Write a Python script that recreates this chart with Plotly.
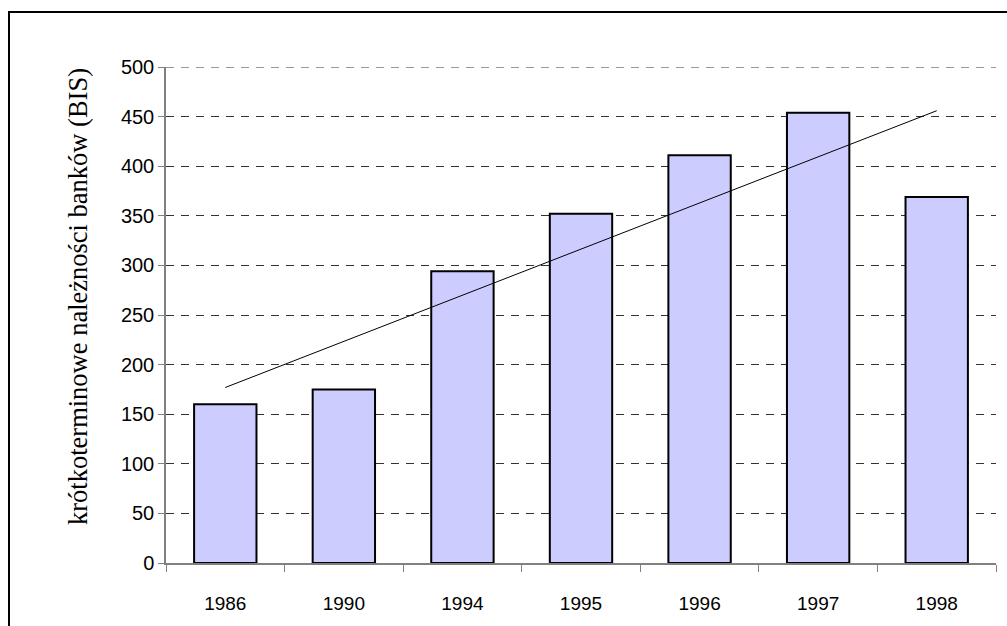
import numpy as np
import plotly.graph_objects as go

years = ["1986", "1990", "1994", "1995", "1996", "1997", "1998"]
claims = [160, 175, 294, 352, 411, 454, 369]
y_ticks = [0, 50, 100, 150, 200, 250, 300, 350, 400, 450, 500]
y_title = "krótkoterminowe należności banków (BIS)"

# linear trend (as in the original spreadsheet's trendline)
idx = np.arange(len(claims))
slope, intercept = np.polyfit(idx, claims, 1)
trend = [intercept, intercept + slope * idx[-1]]

fig = go.Figure()
fig.add_trace(go.Bar(
    x=years, y=claims,
    marker=dict(color="#CCCCFF", line=dict(color="#000000", width=2)),
    showlegend=False,
))
fig.add_trace(go.Scatter(
    x=[years[0], years[-1]], y=trend, mode="lines",
    line=dict(color="#000000", width=1), showlegend=False,
))

W, H = 1007, 626
ml, mr, mt, mb = 166, 11, 67, 63
pw, ph = W - ml - mr, H - mt - mb
grid_color = "#333333"
grid_dash = "8px,7px"

fig.update_layout(
    width=W, height=H,
    margin=dict(l=ml, r=mr, t=mt, b=mb),
    paper_bgcolor="white", plot_bgcolor="white",
    bargap=0.474,
    font=dict(family="Liberation Sans, Arial, sans-serif", size=20, color="#000000"),
    xaxis=dict(
        type="category", tickson="boundaries",
        ticks="outside", ticklen=7, tickcolor="#808080", tickwidth=1,
        showline=True, linecolor="#808080", linewidth=1.5,
        showgrid=False, ticklabelstandoff=22,
        tickfont=dict(family="Liberation Sans, Arial, sans-serif", size=19),
    ),
    yaxis=dict(
        range=[y_ticks[0], y_ticks[-1]], tickvals=y_ticks,
        ticks="outside", ticklen=6, tickcolor="#808080", tickwidth=1,
        showline=True, linecolor="#808080", linewidth=1.5,
        showgrid=True, gridcolor=grid_color, gridwidth=1, griddash=grid_dash,
        zeroline=False,
        tickfont=dict(family="Liberation Sans, Arial, sans-serif", size=20),
    ),
)

# top gridline (Plotly skips the gridline that sits on the plot edge)
fig.add_shape(
    type="line", xref="paper", yref="y",
    x0=0, x1=1, y0=y_ticks[-1], y1=y_ticks[-1],
    line=dict(color=grid_color, width=1, dash=grid_dash), layer="below",
)

# y-axis title, placed as in the original (slightly above the plot's centre)
fig.add_annotation(
    text=y_title, textangle=-90, showarrow=False,
    xref="paper", yref="paper",
    x=(78 - ml) / pw, y=(H - mb - 297) / ph,
    xanchor="center", yanchor="middle",
    font=dict(family="Liberation Serif, Times New Roman, serif", size=26.5, color="#000000"),
)

# outer chart-area frame (top and left edges visible; extends beyond the image)
fig.add_shape(
    type="rect", xref="paper", yref="paper",
    x0=(9 - ml) / pw, x1=1.1, y0=-0.3, y1=(H - mb - 12) / ph,
    line=dict(color="#000000", width=2), fillcolor="rgba(0,0,0,0)", layer="below",
)

fig.write_html("out.html")
